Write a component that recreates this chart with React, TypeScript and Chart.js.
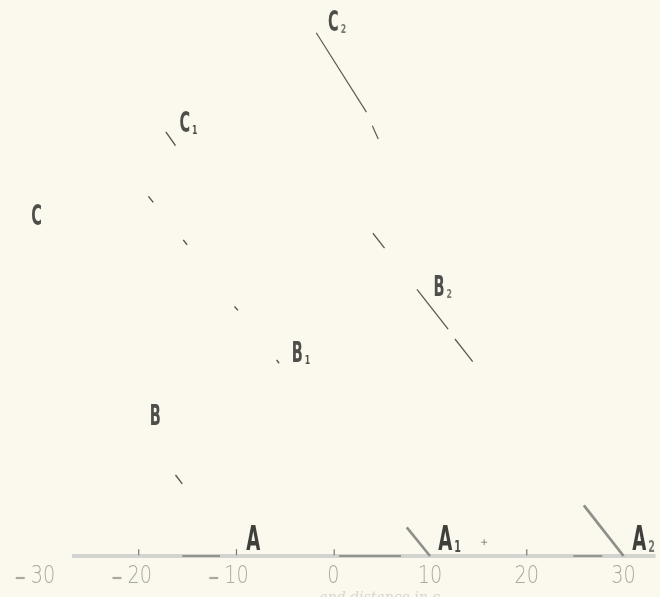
import { useEffect, useRef } from "react";
import { Chart, registerables } from "chart.js";
Chart.register(...registerables);

// x axis: tick values; y: relative height (0 = base line)
const xTicks = [-30, -20, -10, 0, 10, 20, 30];
const baseLine = [{ x: -27, y: 0 }, { x: 33.3, y: 0 }];
const baseDark = [
  [{ x: -15.6, y: 0 }, { x: -11.7, y: 0 }],
  [{ x: 0.6, y: 0 }, { x: 7.0, y: 0 }],
  [{ x: 24.8, y: 0 }, { x: 27.8, y: 0 }],
];
const tickMarks = [-20.1, -10, 0.1, 20];
const crossMark = [{ x: 15.6, y: 2.5 }];

// line through A
const fragA = [[{ x: -16.3, y: 14.7 }, { x: -15.6, y: 13.1 }]];
// line through A1
const fragA1Base = [{ x: 7.6, y: 5.2 }, { x: 10, y: 0 }];
const fragA1 = [
  [{ x: -5.85, y: 35.6 }, { x: -5.6, y: 35.0 }],
  [{ x: -10.2, y: 45.3 }, { x: -9.85, y: 44.6 }],
  [{ x: -15.5, y: 57.4 }, { x: -15.1, y: 56.5 }],
  [{ x: -19.1, y: 65.3 }, { x: -18.6, y: 64.2 }],
];
// line through A2
const fragA2Base = [{ x: 25.9, y: 9.2 }, { x: 30, y: 0 }];
const fragA2 = [
  [{ x: 8.65, y: 48.4 }, { x: 11.87, y: 41.2 }],
  [{ x: 12.58, y: 39.4 }, { x: 14.41, y: 35.3 }],
  [{ x: 4.1, y: 58.6 }, { x: 5.3, y: 55.9 }],
];
// short pieces near C1, C2
const fragC1 = [[{ x: -17.3, y: 77.0 }, { x: -16.3, y: 74.5 }]];
const fragC2 = [
  [{ x: -1.76, y: 95.0 }, { x: 3.43, y: 80.6 }],
  [{ x: 4.04, y: 78.1 }, { x: 4.65, y: 75.7 }],
];

const pointLabels = [
  { t: "C", s: "", x: -31.2, y: 61.7, big: false },
  { t: "C", s: "1", x: -15.9, y: 78.6, big: false },
  { t: "C", s: "2", x: -0.54, y: 96.8, big: false },
  { t: "B", s: "", x: -18.95, y: 25.4, big: false },
  { t: "B", s: "1", x: -4.3, y: 36.7, big: false },
  { t: "B", s: "2", x: 10.35, y: 48.7, big: false },
  { t: "A", s: "", x: -9.0, y: 2.9, big: true },
  { t: "A", s: "1", x: 10.85, y: 2.9, big: true },
  { t: "A", s: "2", x: 30.9, y: 2.9, big: true },
];
const caption = "and distance in c";

const seg = (data: any, color: string, width: number, order = 0) => ({
  type: "line" as const,
  data,
  borderColor: color,
  borderWidth: width,
  pointRadius: 0,
  fill: false,
  clip: false as any,
  tension: 0,
  order,
});

const drawPlugin = {
  id: "drawText",
  beforeDraw(chart: any) {
    const ctx = chart.ctx;
    ctx.save();
    ctx.fillStyle = "#fbf9ee";
    ctx.fillRect(0, 0, chart.width, chart.height);
    ctx.restore();
  },
  afterDatasetsDraw(chart: any) {
    const ctx = chart.ctx;
    const xs = chart.scales.x;
    const ys = chart.scales.y;
    const base = ys.getPixelForValue(0);
    // tick labels
    ctx.save();
    ctx.fillStyle = "#a9a9a4";
    ctx.strokeStyle = "#a9a9a4";
    ctx.textBaseline = "middle";
    ctx.textAlign = "center";
    xTicks.forEach((v) => {
      const px = xs.getPixelForValue(v);
      const txt = String(Math.abs(v));
      ctx.save();
      ctx.translate(px, base + 21);
      ctx.scale(0.8, 1);
      ctx.font = "300 24px 'DejaVu Sans', sans-serif";
      const w = ctx.measureText(txt).width * 0.8;
      ctx.fillText(txt, 0, 0);
      ctx.restore();
      if (v < 0) {
        ctx.lineWidth = 2.2;
        ctx.beginPath();
        ctx.moveTo(px - w / 2 - 15, base + 22);
        ctx.lineTo(px - w / 2 - 6, base + 22);
        ctx.stroke();
      }
    });
    ctx.restore();
    // point labels
    pointLabels.forEach((l) => {
      const px = xs.getPixelForValue(l.x);
      const py = ys.getPixelForValue(l.y);
      const size = l.big ? 33 : 29;
      const sx = l.big ? 0.55 : 0.5;
      ctx.save();
      ctx.fillStyle = l.big ? "#3f3f3c" : "#4e4e4b";
      ctx.textBaseline = "middle";
      ctx.textAlign = "left";
      ctx.translate(px, py);
      ctx.scale(sx, 1);
      ctx.font = `bold ${size}px 'DejaVu Sans', sans-serif`;
      ctx.fillText(l.t, 0, 1);
      const w = ctx.measureText(l.t).width;
      ctx.restore();
      if (l.s) {
        ctx.save();
        ctx.fillStyle = l.s === "2" ? "#777772" : "#4e4e4b";
        ctx.textBaseline = "alphabetic";
        ctx.textAlign = "left";
        ctx.translate(px + w * sx + 2, py + size * 0.36);
        ctx.scale(0.6, 1);
        ctx.font = `bold ${l.big ? 16 : 13}px 'DejaVu Sans', sans-serif`;
        ctx.fillText(l.s, 0, 0);
        ctx.restore();
      }
    });
    // faint caption
    ctx.save();
    ctx.fillStyle = "#d6d6d0";
    ctx.font = "italic 14px 'DejaVu Serif', serif";
    ctx.textAlign = "center";
    ctx.textBaseline = "top";
    ctx.fillText(caption, xs.getPixelForValue(4.8), base + 35);
    ctx.restore();
  },
};

export default function App() {
  const ref = useRef<HTMLCanvasElement | null>(null);
  useEffect(() => {
    if (!ref.current) return;
    const datasets: any[] = [
      seg(baseLine, "#d3d3cf", 4, 10),
      ...baseDark.map((d) => seg(d, "#7c7c78", 1.4, 5)),
      ...fragA.map((d) => seg(d, "#555552", 1.4)),
      seg(fragA1Base, "#8f8f8b", 2.6),
      ...fragA1.map((d) => seg(d, "#555552", 1.4)),
      seg(fragA2Base, "#8f8f8b", 2.8),
      ...fragA2.map((d) => seg(d, "#5a5a57", 1.3)),
      ...fragC1.map((d) => seg(d, "#555552", 1.4)),
      ...fragC2.map((d) => seg(d, "#5a5a57", 1.2)),
      {
        type: "scatter",
        data: tickMarks.map((x) => ({ x, y: 0.7 })),
        pointStyle: "line",
        rotation: 90,
        pointRadius: 3,
        borderColor: "#777",
        borderWidth: 1.2,
        clip: false,
        order: 1,
      },
      {
        type: "scatter",
        data: crossMark,
        pointStyle: "cross",
        pointRadius: 3,
        borderColor: "#888",
        borderWidth: 1,
        clip: false,
        order: 1,
      },
    ];
    const chart = new Chart(ref.current, {
      type: "scatter",
      data: { datasets },
      options: {
        animation: false,
        responsive: false,
        maintainAspectRatio: false,
        layout: { padding: { left: 0, right: 0, top: 0, bottom: 41 } },
        plugins: { legend: { display: false }, tooltip: { enabled: false } },
        scales: {
          x: { type: "linear", display: false, min: -33.9, max: 33.23 },
          y: { type: "linear", display: false, min: 0, max: 100 },
        },
      },
      plugins: [drawPlugin],
    });
    return () => chart.destroy();
  }, []);
  return (
    <div style={{ position: "fixed", left: 0, top: 0, width: 660, height: 597 }}>
      <canvas ref={ref} width={660} height={597} style={{ display: "block" }} />
    </div>
  );
}
